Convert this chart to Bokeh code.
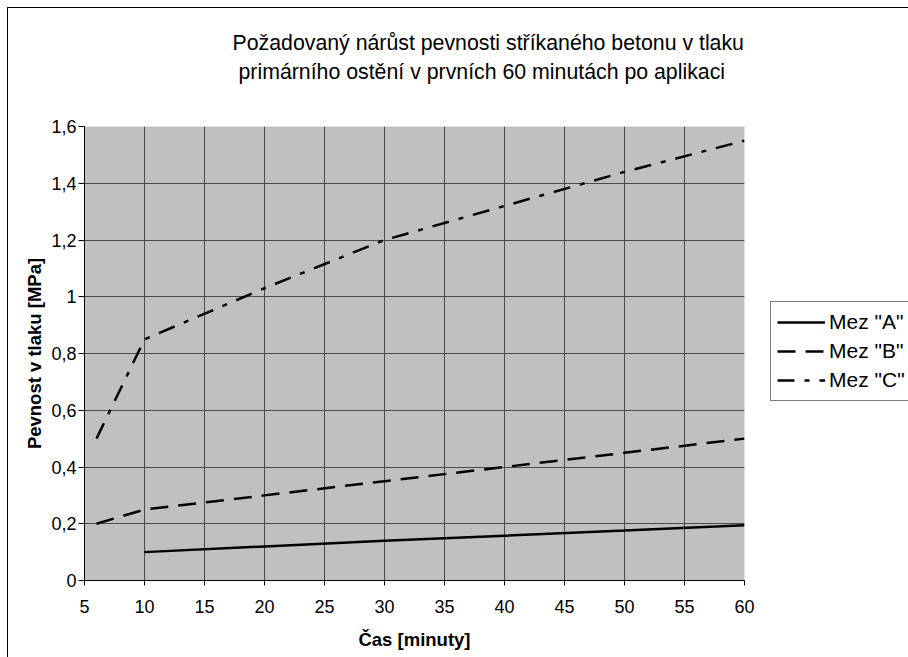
from bokeh.plotting import figure
from bokeh.models import (FixedTicker, CustomJSTickFormatter, Legend, LegendItem,
                          Range1d, Title)
from bokeh.embed import file_html
from bokeh.resources import INLINE

# ---- data ----
title_lines = ["Požadovaný nárůst pevnosti stříkaného betonu v tlaku",
               "primárního ostění v prvních 60 minutách po aplikaci"]
x_label = "Čas [minuty]"
y_label = "Pevnost v tlaku [MPa]"

a_x = [10, 20, 30, 40, 50, 60]
a_y = [0.10, 0.12, 0.14, 0.158, 0.176, 0.195]

b_x = [6, 10, 20, 30, 40, 50, 60]
b_y = [0.20, 0.25, 0.30, 0.35, 0.40, 0.45, 0.50]

c_x = [6, 10, 20, 30, 40, 50, 60]
c_y = [0.50, 0.85, 1.03, 1.20, 1.32, 1.44, 1.55]

series_names = ['Mez "A"', 'Mez "B"', 'Mez "C"']

x_ticks = [5, 10, 15, 20, 25, 30, 35, 40, 45, 50, 55, 60]
y_ticks = [0, 0.2, 0.4, 0.6, 0.8, 1.0, 1.2, 1.4, 1.6]

FONT = "Liberation Sans"

p = figure(width=908, height=657, frame_width=660, frame_height=454,
           x_range=Range1d(5, 60), y_range=Range1d(0, 1.6),
           output_backend="svg", toolbar_location=None,
           min_border_left=84, min_border_right=164,
           min_border_top=126, min_border_bottom=77)
# outer chart border (left and top edges visible in the window)
p.styles = {
    "background": "linear-gradient(#000,#000) 7px 7px / 1px 100% no-repeat, "
                  "linear-gradient(#000,#000) 7px 7px / calc(100% - 8px) 1px no-repeat, #fff"
}

p.background_fill_color = "#c0c0c0"
p.border_fill_alpha = 0
p.outline_line_color = "#e0e0e0"
p.outline_line_width = 1

# title: two lines (first line on top), with an empty gap above the frame
def style_title(t):
    t.align = "left"
    t.text_font = FONT
    t.text_font_size = "21.3px"
    t.text_font_style = "normal"
    t.text_color = "black"

p.title.text = title_lines[0]
style_title(p.title)
p.title.offset = 148
p.title.standoff = 3
gap = Title(text=" ")
style_title(gap)
gap.standoff = 15
p.add_layout(gap, "above")
t2 = Title(text=title_lines[1])
style_title(t2)
t2.offset = 154
t2.standoff = 3
p.add_layout(t2, "above")

# axes
for ax in (p.xaxis[0], p.yaxis[0]):
    ax.axis_line_color = "black"
    ax.axis_line_width = 1
    ax.major_tick_line_color = "black"
    ax.major_tick_in = 0
    ax.minor_tick_line_color = None
    ax.major_label_text_font = FONT
    ax.major_label_text_font_size = "18px"
    ax.major_label_text_color = "black"
    ax.axis_label_text_font = FONT
    ax.axis_label_text_font_size = "18.5px"
    ax.axis_label_text_font_style = "bold"
    ax.axis_label_text_color = "black"

p.xaxis.ticker = FixedTicker(ticks=x_ticks)
p.yaxis.ticker = FixedTicker(ticks=y_ticks)
p.xaxis.major_tick_out = 5
p.yaxis.major_tick_out = 6
p.xaxis.major_label_standoff = 14
p.yaxis.major_label_standoff = 2
p.yaxis.formatter = CustomJSTickFormatter(
    code="return (Math.round(tick*10)/10).toString().replace('.', ',');")
p.xaxis.axis_label = x_label
p.yaxis.axis_label = y_label
p.xaxis.axis_label_standoff = 13
p.yaxis.axis_label_standoff = 3

# grid (interior lines only)
p.xgrid.ticker = FixedTicker(ticks=x_ticks[1:-1])
p.ygrid.ticker = FixedTicker(ticks=y_ticks[1:-1])
for g in (p.xgrid[0], p.ygrid[0]):
    g.grid_line_color = "#4a4a4a"
    g.grid_line_width = 1
    g.grid_line_alpha = 1

# lines
ra = p.line(a_x, a_y, line_color="black", line_width=2.5)
rb = p.line(b_x, b_y, line_color="black", line_width=2.5, line_dash="18 10")
rc = p.line(c_x, c_y, line_color="black", line_width=2.5, line_dash="17 10 5 10")

legend = Legend(items=[LegendItem(label=series_names[0], renderers=[ra]),
                       LegendItem(label=series_names[1], renderers=[rb]),
                       LegendItem(label=series_names[2], renderers=[rc])],
                location=(26, 179))
legend.border_line_color = "black"
legend.border_line_width = 1
legend.background_fill_color = "white"
legend.background_fill_alpha = 1
legend.label_text_font = FONT
legend.label_text_font_size = "21px"
legend.label_text_color = "black"
legend.glyph_width = 48
legend.glyph_height = 28
legend.label_height = 28
legend.label_standoff = 4
legend.spacing = 1
legend.padding = 6
legend.margin = 0
p.add_layout(legend, "right")

open("out.html", "w").write(file_html(p, INLINE))
